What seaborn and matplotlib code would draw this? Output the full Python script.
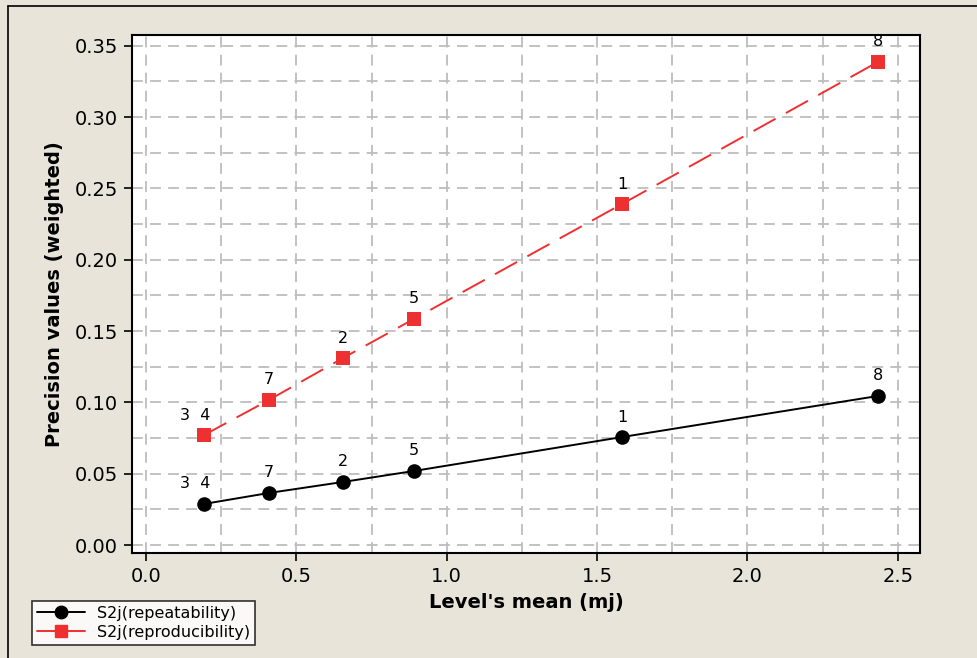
import matplotlib
matplotlib.use("Agg")
import matplotlib.pyplot as plt
import seaborn as sns
import pandas as pd
import numpy as np
from matplotlib.ticker import MultipleLocator
from matplotlib.lines import Line2D

# ---- data ----
level_mean = [0.193, 0.409, 0.655, 0.891, 1.583, 2.434]
repeatability = [0.0288, 0.0365, 0.0442, 0.0519, 0.0757, 0.1045]
reproducibility = [0.0771, 0.1017, 0.1311, 0.1585, 0.2391, 0.3387]
point_labels = ["3  4", "7", "2", "5", "1", "8"]
series_names = ["S2j(repeatability)", "S2j(reproducibility)"]

df = pd.DataFrame({
    "x": level_mean * 2,
    "y": repeatability + reproducibility,
    "series": [series_names[0]] * len(level_mean) + [series_names[1]] * len(level_mean),
})

sns.set_theme(style="white")
plt.rcParams["font.family"] = ["DejaVu Sans"]
plt.rcParams["text.color"] = "black"
plt.rcParams["axes.labelcolor"] = "black"
plt.rcParams["xtick.color"] = "black"
plt.rcParams["ytick.color"] = "black"

bg = "#E8E4DA"
fig = plt.figure(figsize=(9.77, 6.58), dpi=100, facecolor=bg)
ax = fig.add_axes([132/977, 1 - 553/658, (920-132)/977, (553-35)/658])
ax.set_facecolor("white")

palette = {series_names[0]: "black", series_names[1]: "#EE3030"}
sns.lineplot(data=df, x="x", y="y", hue="series", style="series",
             palette=palette, markers={series_names[0]: "o", series_names[1]: "s"},
             dashes={series_names[0]: "", series_names[1]: (13, 6)},
             markersize=10.5, markeredgewidth=0, linewidth=1.4, ax=ax, legend=False,
             zorder=3)

for xs, ys in [(level_mean, repeatability), (level_mean, reproducibility)]:
    for xv, yv, lab in zip(xs, ys, point_labels):
        dx = -0.028 if lab.startswith("3") else 0.0
        ax.annotate(lab, (xv + dx, yv), xytext=(0, 9), textcoords="offset points",
                    ha="center", va="bottom", fontsize=11.5, color="black")

ax.set_xlim(-0.0466, 2.574)
ax.set_ylim(-0.0056, 0.3576)
ax.xaxis.set_minor_locator(MultipleLocator(0.25))
ax.yaxis.set_minor_locator(MultipleLocator(0.025))
ax.set_xticks(np.arange(0, 2.51, 0.5))
ax.set_xticklabels(["0.0", "0.5", "1.0", "1.5", "2.0", "2.5"])
ax.set_yticks(np.arange(0, 0.351, 0.05))
ax.set_yticklabels([f"{v:.2f}" for v in np.arange(0, 0.351, 0.05)])

ax.grid(True, which="both", color="#BDBDBD", linestyle=(0, (6, 4)), linewidth=1.3, zorder=0)
ax.set_axisbelow(True)
ax.tick_params(axis="both", which="major", direction="out", length=6, width=1.2,
               color="black", labelsize=14, labelcolor="black", bottom=True, left=True, pad=4)
ax.tick_params(axis="both", which="minor", length=0)
for s in ax.spines.values():
    s.set_color("black")
    s.set_linewidth(1.5)

ax.set_xlabel("Level's mean (mj)", fontsize=14, fontweight="bold", labelpad=5, color="black")
ax.set_ylabel("Precision values (weighted)", fontsize=14, fontweight="bold", labelpad=8, color="black")

# figure border lines (top and left)
fig.add_artist(Line2D([8/977, 8/977], [0, 1 - 6/658], transform=fig.transFigure, color="black", lw=1.2))
fig.add_artist(Line2D([8/977, 1], [1 - 6/658, 1 - 6/658], transform=fig.transFigure, color="black", lw=1.2))

handles = [Line2D([], [], color="black", marker="o", markersize=9, lw=1.4),
           Line2D([], [], color="#EE3030", marker="s", markersize=9, lw=1.4)]
leg = fig.legend(handles, series_names, loc="upper left",
                 bbox_to_anchor=(32/977, 1 - 601/658), frameon=True, fancybox=False,
                 fontsize=11.5, handlelength=3.0, borderpad=0.3, labelspacing=0.25,
                 handletextpad=0.8, borderaxespad=0)
leg.get_frame().set_edgecolor("black")
leg.get_frame().set_linewidth(1.2)
leg.get_frame().set_facecolor("white")
for t in leg.get_texts():
    t.set_color("black")

fig.savefig("out.png", dpi=100, facecolor=bg)
